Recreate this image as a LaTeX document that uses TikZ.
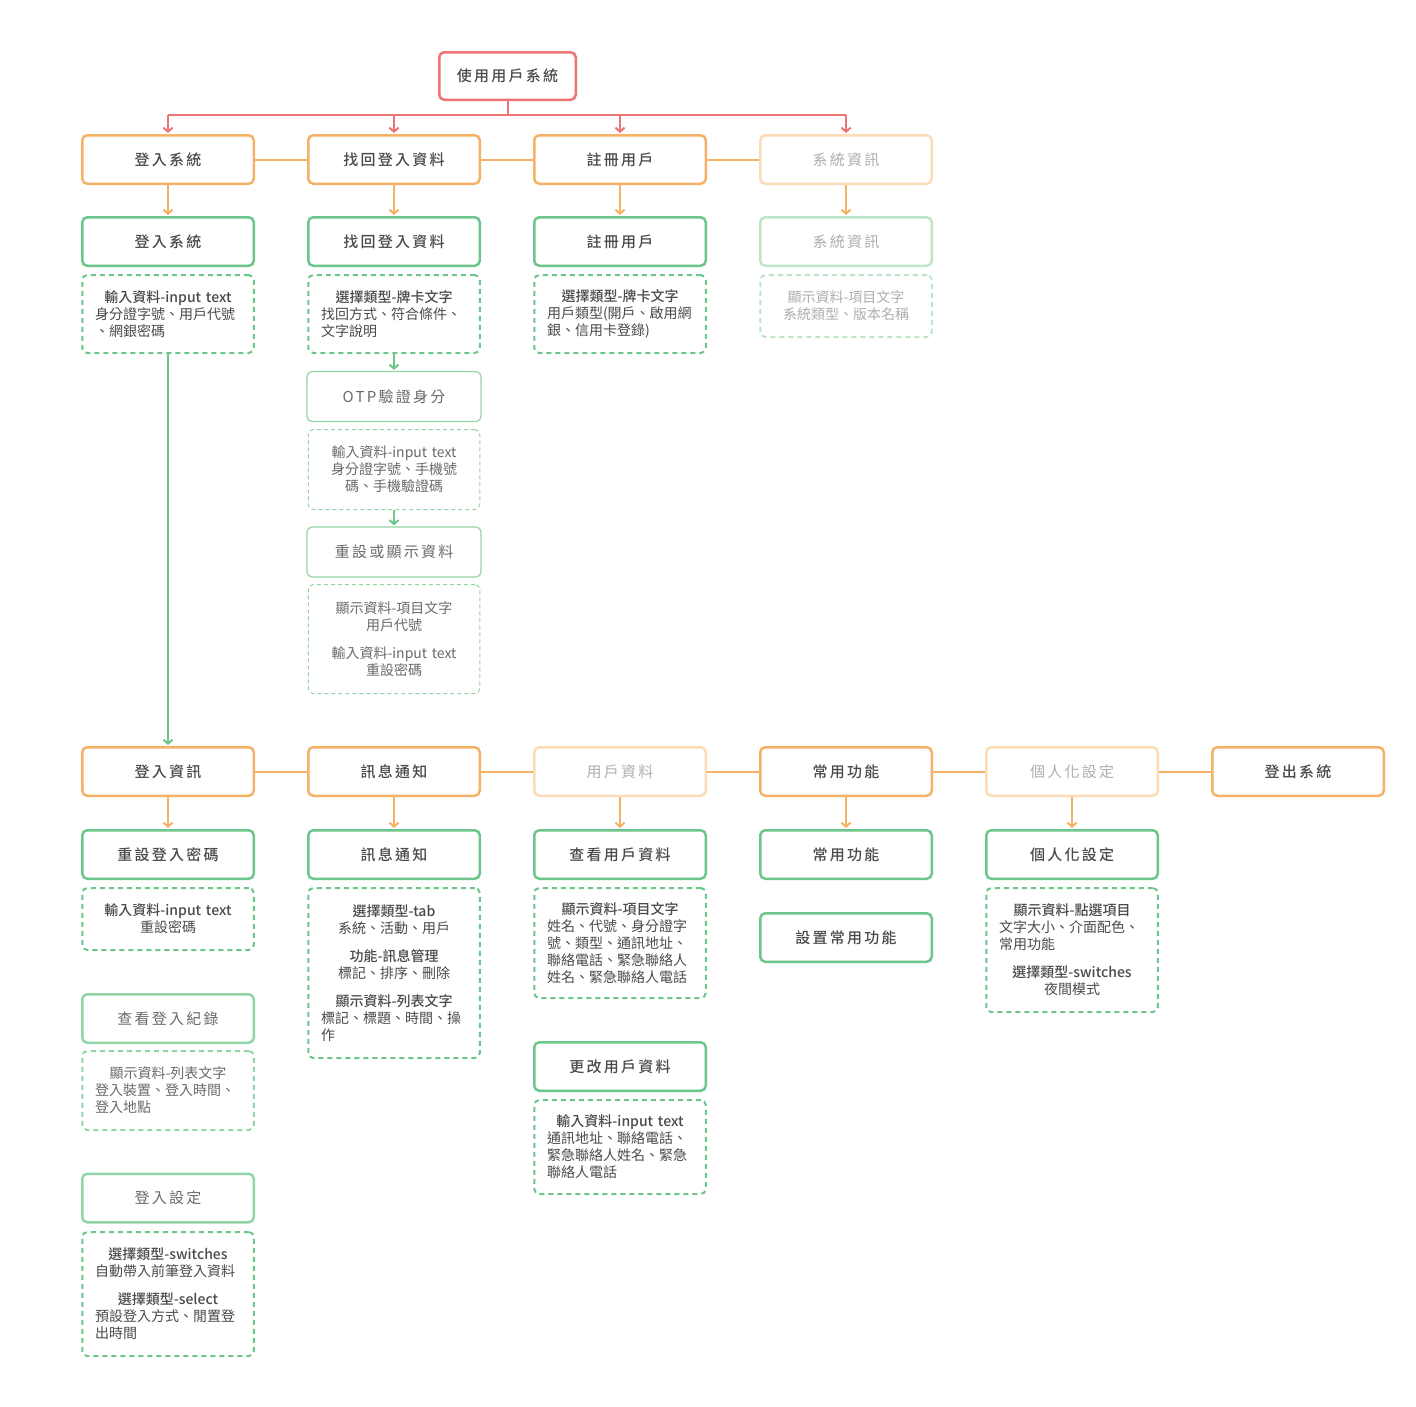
\documentclass[tikz,border=0pt]{standalone}
\usepackage{fontspec}
\setmainfont{Noto Sans CJK TC}
\newfontfamily\ttlfont{Noto Sans CJK TC}[UprightFont=* Medium, LetterSpace=15]
\newfontfamily\ttlreg{Noto Sans CJK TC}[LetterSpace=15]
\newfontfamily\dscmed{Noto Sans CJK TC}[UprightFont=* Medium]
\newfontfamily\dscreg{Noto Sans CJK TC}
\usetikzlibrary{arrows.meta}

\definecolor{cRed}{HTML}{EE7474}
\definecolor{cOr}{HTML}{F5B266}
\definecolor{cOrF}{HTML}{FBDCB6}
\definecolor{cGr}{HTML}{6CC58A}
\definecolor{cGrL}{HTML}{92D5A6}
\definecolor{cGrF}{HTML}{BDE6C9}
\definecolor{cTx}{HTML}{4A4A4A}
\definecolor{cTxL}{HTML}{6A6A6A}
\definecolor{cTxF}{HTML}{AEAEAE}

\newcommand\ttl{\ttlfont\fontsize{15pt}{18pt}\selectfont}
\newcommand\ttlr{\ttlreg\fontsize{15pt}{18pt}\selectfont}
\newcommand\dsc{\dscreg\fontsize{14pt}{17pt}\selectfont}
\newcommand\hd[1]{{\dscmed #1}}
\newcommand\lft[1]{\noindent\hbox to\hsize{#1\hfil}}

\tikzset{
  box/.style={rectangle, rounded corners=5pt, minimum width=171.5pt,
    minimum height=48.5pt, inner sep=0pt, fill=white, line width=2.5pt},
  obox/.style={box, draw=cOr, text=cTx, font=\ttl},
  ofade/.style={box, draw=cOrF, text=cTxF, font=\ttlr},
  gbox/.style={box, draw=cGr, text=cTx, font=\ttl},
  glight/.style={box, draw=cGrL, text=cTxL, font=\ttlr},
  gfade/.style={box, draw=cGrF, text=cTxF, font=\ttlr},
  gthin/.style={box, line width=1.2pt, minimum width=174pt, minimum height=50pt,
    draw=cGrL, text=cTxL, font=\ttlr},
  topbox/.style={box, draw=cRed, text=cTx, font=\ttl,
    minimum width=136.5pt, minimum height=47.5pt},
  note/.style={rectangle, rounded corners=5pt, dash pattern=on 5pt off 4pt,
    line width=2pt, draw=cGr, text width=146pt, inner xsep=12.75pt,
    inner ysep=0pt, align=center, text=cTx, font=\dsc},
  notelight/.style={note, draw=cGrL, text=cTxL},
  notefade/.style={note, draw=cGrF, text=cTxF},
  notethin/.style={note, line width=1pt, dash pattern=on 4pt off 3pt,
    draw=cGrL, text=cTxL},
  tip/.style={-{Straight Barb[length=4pt,width=9pt]}, shorten >=1pt},
  redl/.style={draw=cRed, line width=2pt},
  orl/.style={draw=cOr, line width=2pt},
  grl/.style={draw=cGr, line width=2pt},
}

\begin{document}
\begin{tikzpicture}[x=1pt,y=-1pt]
\useasboundingbox[fill=white] (0,0) rectangle (1416,1406);

% root
\node[topbox] (top) at (507.5,76) {使用用戶系統};

% first level
\node[obox]  (a1) at (168,159.5) {登入系統};
\node[obox]  (a2) at (394,159.5) {找回登入資料};
\node[obox]  (a3) at (620,159.5) {註冊用戶};
\node[ofade] (a4) at (846,159.5) {系統資訊};

\node[gbox]  (g1) at (168,241.5) {登入系統};
\node[gbox]  (g2) at (394,241.5) {找回登入資料};
\node[gbox]  (g3) at (620,241.5) {註冊用戶};
\node[gfade] (g4) at (846,241.5) {系統資訊};

\node[note, minimum height=78pt] (d1) at (168,314)
  {\hd{輸入資料-input text}\\ \lft{身分證字號、用戶代號}\\ \lft{、網銀密碼}};
\node[note, minimum height=78pt] (d2) at (394,314)
  {\hd{選擇類型-牌卡文字}\\ \lft{找回方式、符合條件、}\\ \lft{文字說明}};
\node[note, minimum height=78pt] (d3) at (620,314)
  {\hd{選擇類型-牌卡文字}\\ \lft{用戶類型(開戶、啟用網}\\ \lft{銀、信用卡登錄)}};
\node[notefade, minimum height=62pt] (d4) at (846,306)
  {顯示資料-項目文字\\ 系統類型、版本名稱};

% recovery flow
\node[gthin] (otp) at (394,396.5) {OTP驗證身分};
\node[notethin, minimum height=80pt] (otpd) at (394,469.5)
  {輸入資料-input text\\ 身分證字號、手機號\\ 碼、手機驗證碼};
\node[gthin] (rst) at (394,552) {重設或顯示資料};
\node[notethin, minimum height=109pt] (rstd) at (394,639)
  {顯示資料-項目文字\\ 用戶代號\\[11pt] 輸入資料-input text\\ 重設密碼};

% second level
\node[obox]  (b1) at (168,771.5) {登入資訊};
\node[obox]  (b2) at (394,771.5) {訊息通知};
\node[ofade] (b3) at (620,771.5) {用戶資料};
\node[obox]  (b4) at (846,771.5) {常用功能};
\node[ofade] (b5) at (1072,771.5) {個人化設定};
\node[obox]  (b6) at (1298,771.5) {登出系統};

\node[gbox] (e1) at (168,854.5) {重設登入密碼};
\node[gbox] (e2) at (394,854.5) {訊息通知};
\node[gbox] (e3) at (620,854.5) {查看用戶資料};
\node[gbox] (e4) at (846,854.5) {常用功能};
\node[gbox] (e5) at (1072,854.5) {個人化設定};

\node[note, minimum height=62pt] (e1d) at (168,919)
  {\hd{輸入資料-input text}\\ 重設密碼};
\node[glight] (log) at (168,1018.5) {查看登入紀錄};
\node[notelight, minimum height=79pt] (logd) at (168,1090.5)
  {顯示資料-列表文字\\ \lft{登入裝置、登入時間、}\\ \lft{登入地點}};
\node[glight] (set) at (168,1198) {登入設定};
\node[note, minimum height=124pt] (setd) at (168,1294)
  {\hd{選擇類型-switches}\\ \lft{自動帶入前筆登入資料}\\[11pt]
   \hd{選擇類型-select}\\ \lft{預設登入方式、閒置登}\\ \lft{出時間}};

\node[note, minimum height=170pt] (e2d) at (394,973)
  {\hd{選擇類型-tab}\\ 系統、活動、用戶\\[11pt]
   \hd{功能-訊息管理}\\ 標記、排序、刪除\\[11pt]
   \hd{顯示資料-列表文字}\\ \lft{標記、標題、時間、操}\\ \lft{作}};

\node[note, minimum height=110pt] (e3d) at (620,943)
  {\hd{顯示資料-項目文字}\\ \lft{姓名、代號、身分證字}\\ \lft{號、類型、通訊地址、}\\
   \lft{聯絡電話、緊急聯絡人}\\ \lft{姓名、緊急聯絡人電話}};
\node[gbox] (chg) at (620,1066.5) {更改用戶資料};
\node[note, minimum height=94pt] (chgd) at (620,1147)
  {\hd{輸入資料-input text}\\ \lft{通訊地址、聯絡電話、}\\ \lft{緊急聯絡人姓名、緊急}\\ \lft{聯絡人電話}};

\node[gbox] (fav) at (846,937.5) {設置常用功能};

\node[note, minimum height=124pt] (e5d) at (1072,950)
  {\hd{顯示資料-點選項目}\\ \lft{文字大小、介面配色、}\\ \lft{常用功能}\\[11pt]
   \hd{選擇類型-switches}\\ 夜間模式};

% root to first level
\coordinate (rj) at (507.5,115);
\draw[redl] (top.south) -- (rj);
\draw[redl] (rj -| a1) -- (rj -| a4);
\foreach \n in {a1,a2,a3,a4} \draw[redl,tip] (rj -| \n) -- (\n.north);

% siblings
\draw[orl] (a1.east) -- (a2.west) (a2.east) -- (a3.west) (a3.east) -- (a4.west);
\draw[orl] (b1.east) -- (b2.west) (b2.east) -- (b3.west) (b3.east) -- (b4.west)
           (b4.east) -- (b5.west) (b5.east) -- (b6.west);

% level to screen
\foreach \s/\t in {a1/g1,a2/g2,a3/g3,a4/g4,b1/e1,b2/e2,b3/e3,b4/e4,b5/e5}
  \draw[orl,tip] (\s.south) -- (\t.north);

% green flow
\draw[grl,tip] (d2.south) -- (otp.north);
\draw[grl,tip] (otpd.south) -- (rst.north);
\draw[grl,tip] (d1.south) -- (b1.north);
\end{tikzpicture}
\end{document}
